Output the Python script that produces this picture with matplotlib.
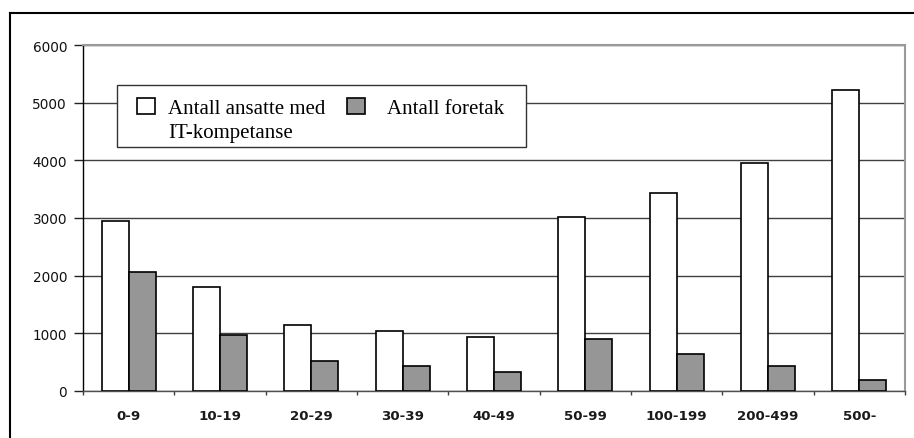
import matplotlib
matplotlib.use("Agg")
import matplotlib.pyplot as plt
import numpy as np
from matplotlib.patches import Patch, Rectangle
from matplotlib.lines import Line2D
from matplotlib.legend_handler import HandlerPatch

categories = ["0-9", "10-19", "20-29", "30-39", "40-49", "50-99", "100-199", "200-499", "500-"]
ansatte_it = [2950, 1800, 1140, 1045, 940, 3010, 3425, 3950, 5220]
antall_foretak = [2070, 970, 525, 440, 335, 910, 640, 440, 195]
yticks = [0, 1000, 2000, 3000, 4000, 5000, 6000]
label_ansatte_1 = "Antall ansatte med"
label_ansatte_2 = "IT-kompetanse"
label_foretak = "Antall foretak"

W, H = 914, 439
fig = plt.figure(figsize=(W / 100, H / 100), dpi=100)
fig.patch.set_facecolor("white")

def fx(px):
    return px / W

def fy(py):
    return 1 - py / H

ax = fig.add_axes([fx(83), fy(392), fx(905) - fx(83), fy(46) - fy(392)])

x = np.arange(len(categories))
bw = 0.296
ax.bar(x - bw / 2, ansatte_it, width=bw, color="white", edgecolor="black", linewidth=1.2, zorder=3)
ax.bar(x + bw / 2, antall_foretak, width=bw, color="#969696", edgecolor="black", linewidth=1.2, zorder=3)

ax.set_xlim(-0.5, len(categories) - 0.5)
ax.set_ylim(0, 6000)
ax.set_yticks(yticks)
ax.set_yticklabels([str(v) for v in yticks])
ax.yaxis.grid(True, color="#404040", linewidth=1.0, zorder=0)
ax.set_axisbelow(True)

ax.set_xticks(x)
ax.set_xticklabels(categories)
ax.set_xticks(np.arange(len(categories) + 1) - 0.5, minor=True)
ax.tick_params(axis="x", which="major", length=0, pad=13)
ax.tick_params(axis="x", which="minor", length=3, direction="out", color="#404040", width=1)
ax.tick_params(axis="y", length=6.5, direction="out", color="#222222", width=1, pad=5)

for lab in ax.get_xticklabels():
    lab.set_fontfamily("DejaVu Sans")
    lab.set_fontweight("bold")
    lab.set_fontsize(9.6)
    lab.set_color("#1a1a1a")
for lab in ax.get_yticklabels():
    lab.set_fontfamily("DejaVu Sans")
    lab.set_fontsize(9.8)
    lab.set_color("#111111")

ax.spines["left"].set_color("black")
ax.spines["left"].set_linewidth(1.0)
ax.spines["bottom"].set_color("#505050")
ax.spines["bottom"].set_linewidth(1.0)
ax.spines["top"].set_color("#9a9a9a")
ax.spines["top"].set_linewidth(1.5)
ax.spines["right"].set_color("#9a9a9a")
ax.spines["right"].set_linewidth(1.5)

# legend box
box = Rectangle((fx(117), fy(148)), fx(526) - fx(117), fy(86) - fy(148),
                transform=fig.transFigure, facecolor="white", edgecolor="#333333",
                linewidth=1.0, zorder=5, clip_on=False)
ax.add_artist(box)

PW = 12.96  # patch width in points (18 px)

def right_patch(legend, orig_handle, xdescent, ydescent, width, height, fontsize):
    return Rectangle((-xdescent + width - PW, -ydescent), PW, height)

def left_patch(legend, orig_handle, xdescent, ydescent, width, height, fontsize):
    return Rectangle((-xdescent, -ydescent), PW, height)

h_white = Patch(facecolor="white", edgecolor="black", linewidth=1.2)
h_blank = Patch(facecolor="none", edgecolor="none", linewidth=0)
h_gray = Patch(facecolor="#969696", edgecolor="black", linewidth=1.2)
leg = ax.legend([h_white, h_blank, h_gray], [label_ansatte_1, label_ansatte_2, label_foretak],
                ncol=2, frameon=False,
                loc="upper left", bbox_to_anchor=(fx(128), fy(99)),
                bbox_transform=fig.transFigure, borderaxespad=0, borderpad=0.0,
                prop={"family": "Liberation Serif", "size": 15},
                handlelength=1.296, handleheight=0.768, handletextpad=0.62,
                columnspacing=1.05, labelspacing=0.18,
                handler_map={h_white: HandlerPatch(patch_func=right_patch),
                             h_blank: HandlerPatch(patch_func=right_patch),
                             h_gray: HandlerPatch(patch_func=left_patch)})
leg.set_zorder(6)

# outer frame (left and top edges)
fig.add_artist(Line2D([fx(9.5), fx(9.5)], [0, fy(13.5)], transform=fig.transFigure,
                      color="black", linewidth=1.5, solid_capstyle="projecting"))
fig.add_artist(Line2D([fx(9.5), 1.0], [fy(13.5), fy(13.5)], transform=fig.transFigure,
                      color="black", linewidth=1.5, solid_capstyle="projecting"))

fig.savefig("out.png", dpi=100, facecolor="white")
